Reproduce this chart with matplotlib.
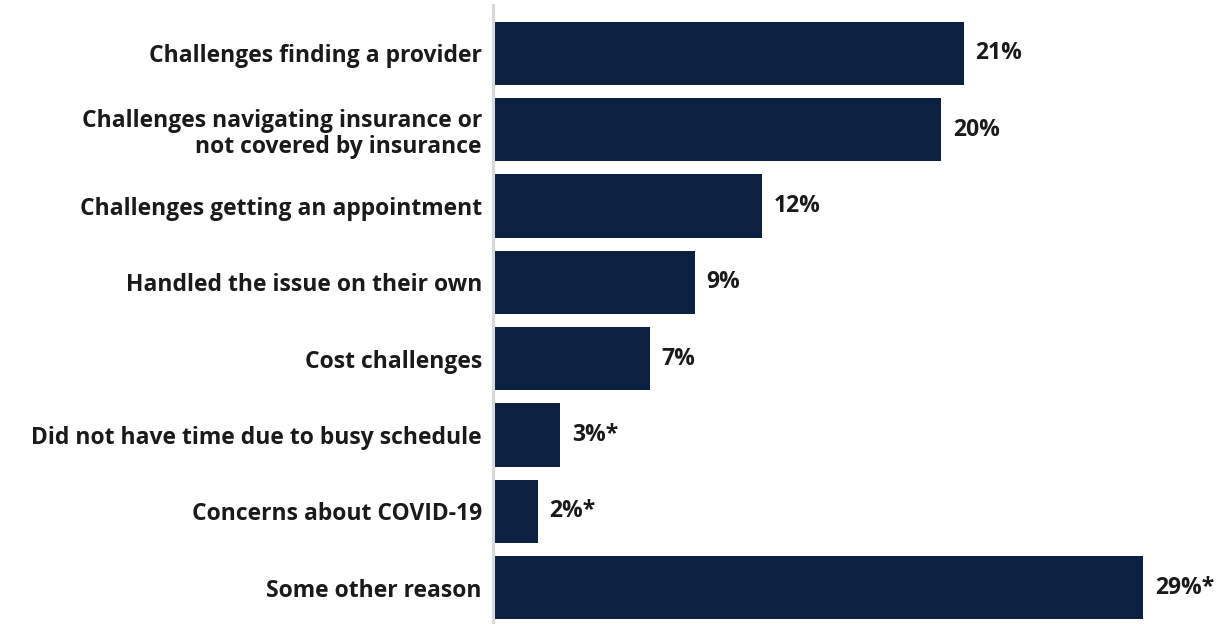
import matplotlib
matplotlib.use('Agg')
import matplotlib.pyplot as plt

plt.rcParams['font.family'] = ['Open Sans', 'DejaVu Sans']

# reasons and shares (%)
reasons = [
    'Challenges finding a provider',
    'Challenges navigating insurance or\nnot covered by insurance',
    'Challenges getting an appointment',
    'Handled the issue on their own',
    'Cost challenges',
    'Did not have time due to busy schedule',
    'Concerns about COVID-19',
    'Some other reason',
]
shares = [21, 20, 12, 9, 7, 3, 2, 29]
notes = ['', '', '', '', '', '*', '*', '*']

bar_color = '#0c2141'
text_color = '#1a1a1a'

fig = plt.figure(figsize=(12.22, 6.24), dpi=100)
ax = fig.add_axes([493 / 1222, 2 / 624, (1143 - 493) / 1222, 617 / 624])

ypos = list(range(len(reasons)))
ax.barh(ypos, shares, height=0.83, color=bar_color)
ax.set_xlim(0, 29)
ax.set_ylim(7.45, -0.635)

for y, v, n in zip(ypos, shares, notes):
    ax.annotate(f'{v}%{n}', (v, y), xytext=(8.5, 0), textcoords='offset points',
                va='center', ha='left', fontsize=16.5, fontweight='bold',
                color=text_color, annotation_clip=False)

ax.set_yticks(ypos)
ax.set_yticklabels(reasons, fontsize=16.5, fontweight='bold', color=text_color,
                   ha='right', linespacing=1.15)
ax.tick_params(axis='y', length=0, pad=8)
ax.set_xticks([])

for side in ['top', 'right', 'bottom']:
    ax.spines[side].set_visible(False)
ax.spines['left'].set_color('#d9d9d9')
ax.spines['left'].set_linewidth(2.2)

fig.savefig('out.png', dpi=100)
